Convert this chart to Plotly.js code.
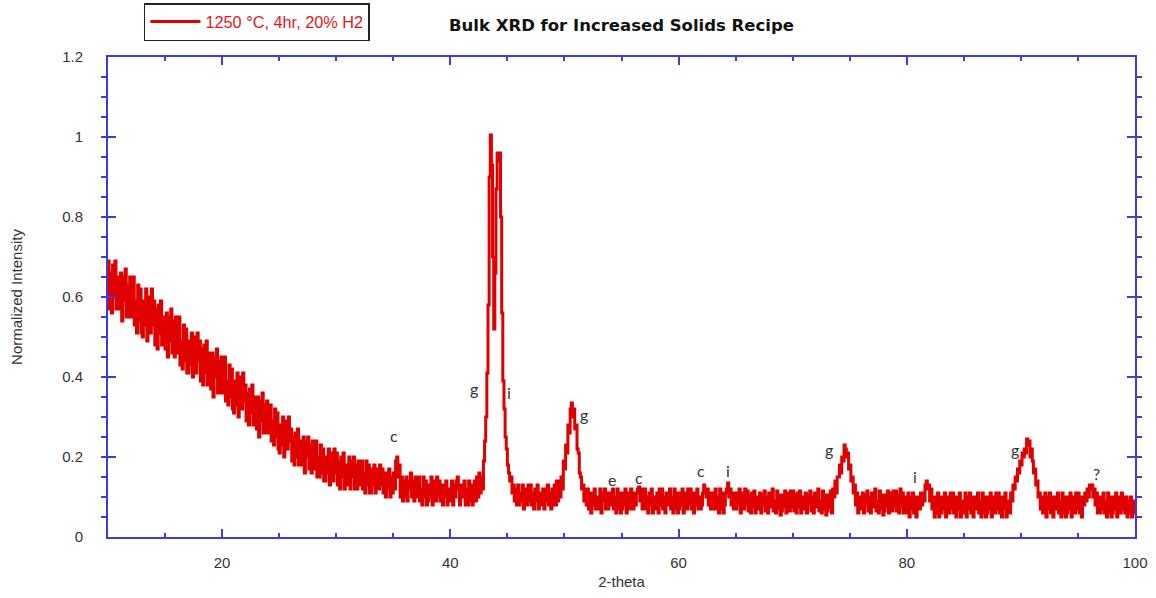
<!DOCTYPE html>
<html>
<head>
<meta charset="utf-8">
<script src="https://cdn.plot.ly/plotly-3.0.1.min.js"></script>
<style>html,body{margin:0;padding:0;background:#fff;}#chart{width:1156px;height:598px;}</style>
</head>
<body>
<div id="chart"></div>
<script>
// 2-theta scan: start and step (degrees)
const twoThetaStart = 10;
const twoThetaStep = 0.1;

// Normalized intensity, 0.1 degree steps
const intensity10to20 = [
  .69,.57,.66,.56,.68,.60,.69,.57,.65,.59,
  .57,.66,.54,.65,.59,.67,.55,.63,.55,.65,
  .63,.55,.65,.53,.59,.51,.63,.54,.62,.51,
  .50,.59,.53,.62,.49,.58,.60,.51,.62,.53,
  .59,.48,.57,.47,.58,.51,.59,.48,.55,.49,
  .47,.56,.45,.55,.49,.57,.46,.54,.45,.55,
  .53,.46,.55,.43,.49,.42,.53,.44,.52,.41,
  .41,.49,.43,.51,.40,.48,.50,.41,.51,.44,
  .49,.39,.47,.38,.48,.41,.49,.38,.46,.40,
  .37,.46,.35,.45,.40,.47,.36,.44,.36,.45
];
const intensity20to30 = [
  .43,.36,.45,.34,.39,.33,.43,.35,.42,.32,
  .31,.39,.33,.41,.30,.38,.40,.32,.41,.34,
  .38,.29,.36,.28,.37,.31,.38,.28,.35,.30,
  .27,.35,.25,.34,.29,.36,.26,.33,.26,.34,
  .32,.26,.33,.24,.29,.23,.32,.25,.31,.22,
  .21,.28,.23,.30,.20,.27,.29,.22,.30,.24,
  .27,.19,.25,.18,.26,.20,.27,.18,.24,.19,
  .18,.25,.16,.24,.20,.25,.17,.23,.16,.24,
  .23,.17,.24,.15,.20,.15,.23,.16,.22,.14,
  .14,.20,.16,.22,.13,.19,.21,.14,.22,.16
];
const intensity30to43 = [
  .21,.13,.19,.12,.20,.15,.21,.12,.18,.14,
  .13,.20,.12,.19,.15,.20,.12,.18,.12,.19,
  .18,.13,.19,.12,.16,.11,.19,.13,.18,.11,
  .11,.17,.13,.18,.11,.16,.17,.12,.18,.13,
  .17,.11,.16,.10,.16,.12,.17,.10,.15,.11,
  .16,.12,.19,.20,.15,.18,.10,.15,.09,.14,
  .10,.15,.09,.14,.12,.16,.10,.14,.09,.15,
  .14,.10,.15,.09,.12,.08,.15,.10,.14,.08,
  .09,.13,.10,.15,.08,.13,.14,.09,.15,.10,
  .14,.09,.13,.08,.13,.10,.14,.08,.12,.09,
  .09,.14,.08,.13,.10,.14,.15,.12,.08,.13,
  .13,.10,.14,.08,.12,.08,.14,.09,.13,.08,
  .09,.14,.09,.15,.10,.16,.11,.15,.12,.19
];
const intensity43to52 = [
  .24,.30,.41,.58,.90,1.005,.93,.70,.52,.66,
  .87,.96,.94,.96,.80,.56,.39,.32,.25,.22,
  .18,.16,.14,.15,.11,.13,.09,.12,.08,.13,
  .08,.11,.09,.13,.07,.11,.12,.08,.13,.09,
  .13,.08,.11,.07,.12,.09,.13,.07,.11,.08,
  .08,.12,.07,.12,.09,.13,.08,.11,.07,.12,
  .08,.13,.08,.14,.09,.14,.10,.15,.12,.19,
  .17,.23,.21,.28,.26,.32,.335,.30,.32,.27,
  .28,.22,.21,.16,.15,.12,.13,.09,.12,.08
];
const intensity52to74 = [
  .12,.07,.11,.06,.11,.08,.12,.07,.10,.07,
  .07,.12,.06,.11,.09,.12,.07,.11,.07,.11,
  .11,.08,.12,.07,.10,.06,.12,.07,.11,.06,
  .07,.11,.08,.12,.06,.10,.11,.07,.12,.08,
  .07,.11,.08,.11,.12,.125,.09,.12,.07,.11,
  .12,.07,.10,.06,.11,.08,.12,.06,.10,.07,
  .07,.11,.06,.12,.08,.12,.07,.10,.06,.11,
  .11,.08,.12,.07,.10,.06,.12,.07,.11,.06,
  .07,.11,.08,.12,.06,.10,.11,.07,.12,.08,
  .12,.07,.11,.06,.11,.08,.12,.07,.10,.07,
  .08,.11,.13,.12,.10,.12,.08,.11,.07,.11,
  .11,.07,.12,.07,.10,.06,.12,.07,.11,.06,
  .08,.11,.12,.135,.10,.12,.08,.11,.07,.11,
  .07,.11,.08,.12,.06,.10,.11,.07,.12,.08,
  .115,.065,.105,.06,.11,.075,.115,.06,.10,.07,
  .07,.11,.06,.105,.08,.115,.065,.10,.06,.11,
  .11,.075,.12,.065,.09,.06,.115,.07,.105,.055,
  .065,.105,.075,.115,.06,.095,.11,.065,.115,.075,
  .115,.065,.105,.06,.11,.075,.115,.06,.10,.07,
  .07,.11,.06,.105,.08,.115,.065,.10,.06,.11,
  .11,.075,.12,.065,.09,.06,.115,.07,.105,.055,
  .065,.105,.075,.115,.06,.12,.10,.14,.11,.15
];
const intensity74to100 = [
  .15,.18,.16,.20,.19,.23,.22,.20,.21,.17,
  .18,.14,.15,.11,.13,.08,.11,.06,.10,.07,
  .07,.11,.06,.105,.08,.115,.065,.10,.06,.11,
  .11,.075,.12,.065,.09,.06,.115,.07,.105,.055,
  .065,.105,.075,.115,.06,.095,.11,.065,.115,.075,
  .115,.065,.105,.06,.12,.075,.11,.06,.10,.07,
  .06,.11,.05,.10,.07,.11,.06,.10,.05,.10,
  .10,.07,.11,.08,.11,.09,.13,.14,.12,.13,
  .09,.12,.07,.10,.05,.10,.06,.11,.05,.10,
  .06,.10,.07,.11,.05,.09,.10,.06,.11,.07,
  .11,.06,.10,.05,.10,.07,.11,.05,.09,.06,
  .06,.11,.05,.10,.07,.11,.06,.10,.05,.10,
  .10,.07,.11,.06,.09,.05,.11,.06,.10,.05,
  .06,.10,.07,.11,.05,.09,.10,.06,.11,.07,
  .11,.06,.10,.05,.10,.07,.11,.05,.09,.06,
  .06,.11,.09,.13,.12,.15,.14,.17,.16,.19,
  .18,.21,.20,.22,.21,.245,.23,.24,.20,.22,
  .19,.16,.17,.13,.14,.10,.11,.07,.10,.06,
  .06,.11,.05,.10,.07,.11,.06,.10,.05,.10,
  .10,.07,.11,.06,.09,.05,.11,.06,.10,.05,
  .06,.10,.07,.11,.05,.09,.10,.06,.11,.07,
  .11,.06,.10,.05,.10,.08,.11,.09,.12,.10,
  .13,.12,.13,.10,.12,.08,.11,.06,.10,.06,
  .10,.07,.11,.06,.09,.05,.11,.06,.10,.05,
  .06,.10,.07,.11,.05,.09,.10,.06,.11,.07,
  .10,.06,.10,.05,.09,.06,.10,.05,.09,.06,
  .08
];

// Phase labels on peaks
const peakLabels = ['c','g','i','g','e','c','c','i','g','i','g','?'];
const peakLabelX = [35.09, 42.1, 45.17, 51.72, 54.14, 56.54, 61.93, 64.36, 73.2, 80.72, 89.48, 96.64];
const peakLabelY = [0.254, 0.371, 0.3625, 0.3075, 0.144, 0.15, 0.166, 0.1675, 0.22, 0.1525, 0.22, 0.159];

const seriesName = '1250 °C, 4hr, 20% H2';
const chartTitle = 'Bulk XRD for Increased Solids Recipe';

const intensity = [].concat(intensity10to20, intensity20to30, intensity30to43,
                            intensity43to52, intensity52to74, intensity74to100);

const axisBlue = '#3c3ce0';
const red = '#e00000';
const sans = 'Liberation Sans, Arial, sans-serif';
const tickFont = {family: sans, size: 15, color: '#333333'};

const trace = {
  type: 'scatter',
  mode: 'lines',
  x0: twoThetaStart,
  dx: twoThetaStep,
  y: intensity,
  name: seriesName,
  line: {color: red, width: 3, shape: 'hv'},
  hoverinfo: 'skip'
};

const annotations = peakLabels.map((t, i) => ({
  x: peakLabelX[i], y: peakLabelY[i], xref: 'x', yref: 'y',
  text: t, showarrow: false,
  font: {family: 'Lato, Open Sans, sans-serif', size: 16, color: '#333333'}
}));

const layout = {
  width: 1156, height: 598,
  margin: {l: 108, r: 21, t: 57, b: 61, pad: 0},
  paper_bgcolor: '#ffffff', plot_bgcolor: '#ffffff',
  showlegend: true,
  title: {
    text: '<b>' + chartTitle + '</b>',
    font: {family: 'DejaVu Sans, sans-serif', size: 16.5, color: '#111111'},
    x: 0.5, xref: 'paper', xanchor: 'center', y: 0.957, yref: 'container', yanchor: 'middle'
  },
  legend: {
    xref: 'paper', yref: 'container',
    x: 0.035, y: 1 - 3 / 598, xanchor: 'left', yanchor: 'top',
    bordercolor: '#222222', borderwidth: 1.5, bgcolor: '#ffffff',
    itemwidth: 50,
    font: {family: sans, size: 16.3, color: '#e8141c'}
  },
  xaxis: {
    range: [10, 100], tick0: 0, dtick: 20,
    ticks: 'inside', ticklen: 8, tickwidth: 2, tickcolor: axisBlue,
    showline: true, linecolor: axisBlue, linewidth: 2, mirror: 'allticks',
    showgrid: false, zeroline: false,
    minor: {dtick: 5, ticks: 'inside', ticklen: 4, tickwidth: 2, tickcolor: axisBlue, showgrid: false},
    tickfont: tickFont, ticklabelstandoff: 11,
    title: {text: '2-theta', font: {family: sans, size: 15, color: '#333333'}, standoff: 6}
  },
  yaxis: {
    range: [0, 1.2], tick0: 0, dtick: 0.2,
    ticks: 'inside', ticklen: 8, tickwidth: 2, tickcolor: axisBlue,
    showline: true, linecolor: axisBlue, linewidth: 2, mirror: 'allticks',
    showgrid: false, zeroline: false,
    minor: {dtick: 0.05, ticks: 'outside', ticklen: 5, tickwidth: 2, tickcolor: axisBlue, showgrid: false},
    tickfont: tickFont, ticklabelstandoff: 20,
    title: {text: 'Normalized Intensity', font: {family: sans, size: 15, color: '#333333'}, standoff: 36}
  },
  annotations: annotations
};

Plotly.newPlot('chart', [trace], layout, {displayModeBar: false, staticPlot: true});
</script>
</body>
</html>
